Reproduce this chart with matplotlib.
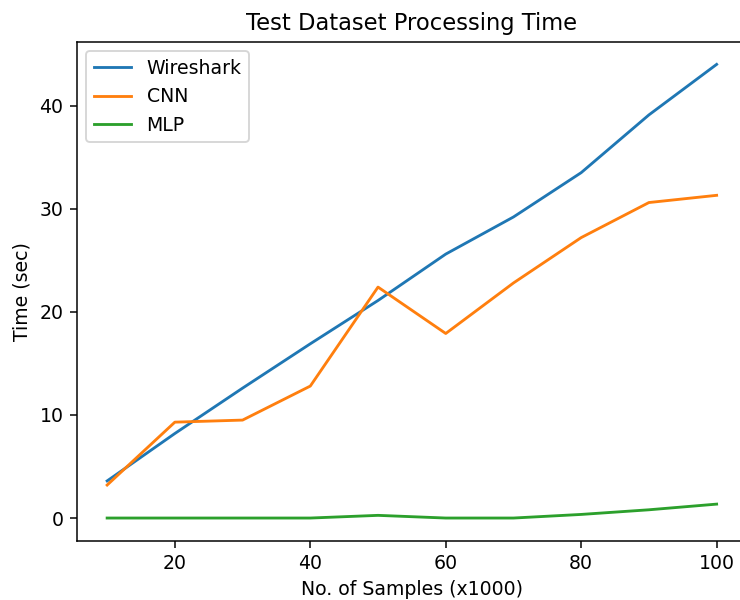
import matplotlib
matplotlib.use("Agg")
import matplotlib.pyplot as plt

# samples in thousands
samples = [10, 20, 30, 40, 50, 60, 70, 80, 90, 100]

# processing time (sec)
wireshark = [3.6, 8.2, 12.6, 16.9, 21.1, 25.6, 29.2, 33.5, 39.1, 44.0]
cnn = [3.2, 9.3, 9.5, 12.8, 22.4, 17.9, 22.8, 27.2, 30.6, 31.3]
mlp = [0.0, 0.0, 0.0, 0.0, 0.26, 0.0, 0.0, 0.35, 0.8, 1.35]

# reference looks like a ~1.36x upscaled default figure
dpi = 136
fig = plt.figure(figsize=(740 / dpi, 600 / dpi), dpi=dpi)
ax = fig.add_axes([0.1036, 0.0988, 0.906, 0.8317])

ax.plot(samples, wireshark, label="Wireshark")
ax.plot(samples, cnn, label="CNN")
ax.plot(samples, mlp, label="MLP")

ax.set_title("Test Dataset Processing Time")
ax.set_xlabel("No. of Samples (x1000)")
ax.set_ylabel("Time (sec)")
ax.legend(loc="upper left")

fig.savefig("out.png", dpi=dpi)
